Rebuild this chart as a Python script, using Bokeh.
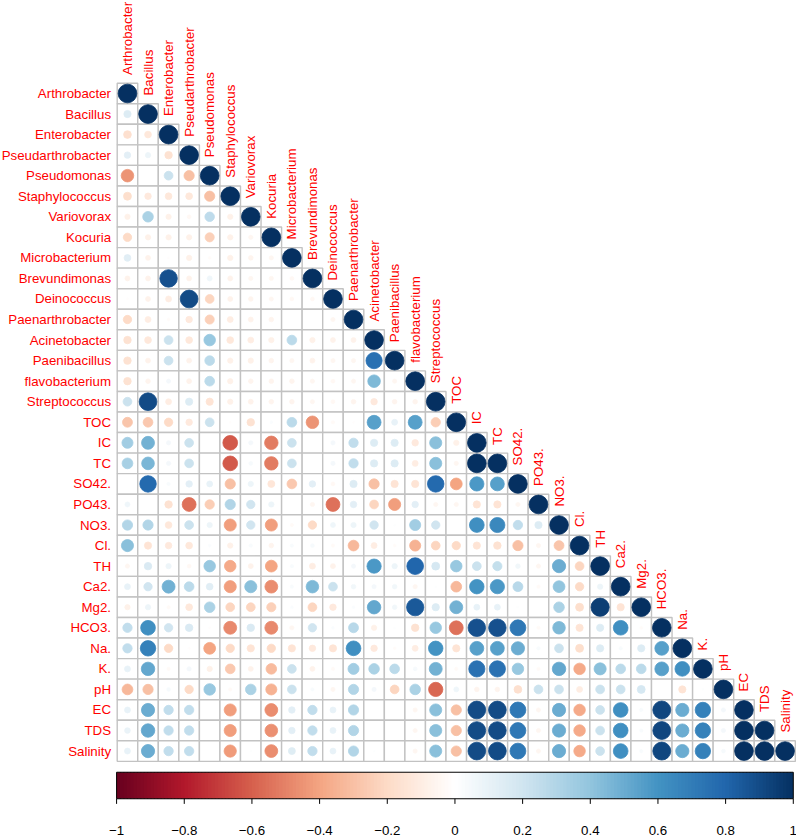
import math
import numpy as np
from bokeh.plotting import figure
from bokeh.models import Range1d
from bokeh.core.properties import value
from bokeh.embed import file_html
from bokeh.resources import INLINE

variables = ["Arthrobacter", "Bacillus", "Enterobacter", "Pseudarthrobacter", "Pseudomonas",
             "Staphylococcus", "Variovorax", "Kocuria", "Microbacterium", "Brevundimonas",
             "Deinococcus", "Paenarthrobacter", "Acinetobacter", "Paenibacillus", "flavobacterium",
             "Streptococcus", "TOC", "IC", "TC", "SO42.", "PO43.", "NO3.", "Cl.", "TH", "Ca2.",
             "Mg2.", "HCO3.", "Na.", "K.", "pH", "EC", "TDS", "Salinity"]

# lower-triangle correlations, one list per row (columns 1 .. row-1)
r_Bacillus = [0.15]
r_Enterobacter = [-0.17, -0.13]
r_Pseudarthrobacter = [0.12, 0.08, -0.16]
r_Pseudomonas = [-0.45, 0.0, 0.22, -0.3]
r_Staphylococcus = [-0.18, -0.12, -0.13, -0.13, -0.3]
r_Variovorax = [-0.08, 0.32, -0.08, -0.04, 0.26, -0.08]
r_Kocuria = [-0.2, -0.08, -0.08, -0.08, -0.24, -0.08, -0.05]
r_Microbacterium = [0.13, -0.07, -0.01, -0.08, -0.02, -0.08, -0.06, -0.05]
r_Brevundimonas = [-0.07, -0.07, 0.88, -0.07, 0.07, -0.07, -0.05, -0.05, -0.04]
r_Deinococcus = [-0.01, -0.07, -0.1, 0.9, -0.22, -0.07, -0.06, -0.05, -0.04, -0.04]
r_Paenarthrobacter = [-0.2, -0.1, -0.02, -0.12, -0.24, -0.1, -0.07, -0.06, 0.0, 0.0, -0.05]
r_Acinetobacter = [-0.16, -0.13, 0.22, -0.13, 0.38, -0.13, -0.1, -0.08, 0.27, -0.08, -0.07, -0.07]
r_Paenibacillus = [-0.16, -0.07, 0.22, -0.07, 0.27, -0.08, -0.08, -0.06, -0.05, -0.07, -0.05,
                   -0.05, 0.75]
r_flavobacterium = [-0.16, -0.06, 0.05, -0.07, 0.27, -0.08, -0.06, -0.06, -0.06, -0.05, -0.04,
                    -0.05, 0.45, -0.05]
r_Streptococcus = [0.22, 0.9, -0.1, 0.15, -0.15, -0.08, -0.07, -0.06, -0.06, -0.05, -0.04,
                   -0.06, -0.12, -0.06, -0.06]
r_TOC = [-0.28, -0.27, -0.2, -0.12, 0.22, -0.01, -0.16, 0.02, 0.27, -0.45, -0.03, -0.01, 0.55,
         0.1, 0.55, -0.25]
r_IC = [0.35, 0.48, 0.05, 0.22, 0.0, -0.62, 0.05, -0.52, 0.22, 0.0, 0.05, 0.25, 0.15, 0.15,
        -0.12, 0.42, -0.08]
r_TC = [0.33, 0.46, 0.05, 0.22, 0.0, -0.62, 0.04, -0.52, 0.22, 0.0, 0.05, 0.25, 0.15, 0.15,
        -0.1, 0.42, -0.05, 1.0]
r_SO4 = [0.0, 0.78, 0.03, 0.12, 0.1, -0.3, 0.08, -0.14, -0.27, 0.12, -0.04, 0.15, -0.3, -0.15,
         -0.15, 0.78, -0.4, 0.58, 0.55]
r_PO4 = [0.07, 0.0, -0.16, -0.55, -0.25, 0.3, 0.2, 0.08, 0.0, -0.05, -0.55, 0.12, -0.22, -0.42,
         0.12, -0.05, -0.05, -0.15, -0.15, -0.05]
r_NO3 = [0.3, 0.3, -0.13, 0.22, 0.08, -0.42, 0.2, -0.42, -0.03, -0.2, 0.07, 0.08, 0.2, 0.01,
         0.35, 0.2, 0.0, 0.62, 0.65, 0.25, 0.15]
r_Cl = [0.42, -0.15, -0.12, -0.13, 0.02, -0.08, 0.03, -0.06, 0.03, 0.04, -0.03, -0.33, -0.1,
        -0.02, -0.35, -0.22, -0.2, -0.15, -0.16, -0.3, -0.05, -0.28]
r_TH = [-0.05, 0.16, 0.08, -0.04, 0.38, -0.38, -0.07, -0.4, 0.03, -0.1, -0.07, 0.05, 0.58, 0.08,
        0.8, 0.18, 0.38, 0.22, 0.24, 0.06, -0.05, 0.5, -0.22]
r_Ca = [0.1, 0.2, 0.48, 0.27, 0.13, -0.42, 0.42, -0.47, 0.03, 0.45, 0.22, 0.06, 0.05, 0.06, -0.05,
        0.01, -0.33, 0.6, 0.58, 0.28, -0.03, 0.4, -0.2, 0.08]
r_Mg = [-0.08, 0.08, -0.03, -0.13, 0.32, -0.22, -0.22, -0.24, 0.02, -0.22, -0.12, 0.02, 0.52,
        0.06, 0.85, 0.15, 0.48, 0.1, 0.1, 0.01, 0.0, 0.32, -0.18, 0.95, -0.15]
r_HCO3 = [0.25, 0.62, 0.2, 0.16, -0.01, -0.48, 0.16, -0.48, -0.05, 0.2, 0.02, 0.28, -0.08, 0.01,
          -0.16, 0.38, -0.55, 0.88, 0.88, 0.72, -0.03, 0.45, -0.15, 0.15, 0.62, -0.02]
r_Na = [0.25, 0.68, -0.2, -0.01, -0.4, -0.2, -0.15, -0.2, -0.15, -0.12, -0.15, 0.62, -0.12,
        -0.02, -0.1, 0.6, -0.15, 0.55, 0.55, 0.5, 0.03, 0.22, -0.18, 0.15, 0.03, 0.15, 0.55]
r_K = [0.1, 0.52, -0.03, 0.05, -0.08, -0.27, -0.07, -0.32, 0.22, -0.07, -0.03, 0.35, 0.32, 0.27,
       0.04, 0.48, -0.03, 0.75, 0.75, 0.38, -0.03, 0.52, -0.38, 0.42, 0.27, 0.27, 0.55, 0.62]
r_pH = [-0.33, -0.3, 0.04, -0.2, 0.38, -0.03, 0.32, -0.35, 0.22, 0.03, -0.05, 0.3, 0.05, -0.22,
        0.32, -0.58, 0.07, -0.06, -0.06, -0.17, 0.22, 0.22, -0.1, 0.22, 0.22, 0.18, 0.0, -0.15,
        0.01]
r_EC = [0.1, 0.5, 0.25, 0.25, 0.0, -0.42, 0.0, -0.47, 0.12, 0.25, 0.1, 0.3, 0.0, 0.0, -0.05,
        0.42, -0.3, 0.9, 0.9, 0.72, -0.05, 0.5, -0.38, 0.22, 0.62, 0.03, 0.92, 0.5, 0.68, 0.05]
r_TDS = [0.09, 0.52, 0.25, 0.25, 0.0, -0.42, 0.0, -0.46, 0.12, 0.25, 0.1, 0.3, 0.0, 0.0, -0.05,
         0.42, -0.3, 0.9, 0.9, 0.72, -0.05, 0.5, -0.38, 0.22, 0.62, 0.03, 0.92, 0.5, 0.68, 0.05,
         1.0]
r_Salinity = [0.1, 0.5, 0.25, 0.25, 0.0, -0.43, 0.01, -0.47, 0.14, 0.25, 0.1, 0.3, 0.01, 0.0,
              -0.05, 0.42, -0.3, 0.9, 0.9, 0.72, -0.05, 0.5, -0.38, 0.22, 0.62, 0.03, 0.92, 0.5,
              0.68, 0.04, 1.0, 1.0]

lower_rows = [r_Bacillus, r_Enterobacter, r_Pseudarthrobacter, r_Pseudomonas, r_Staphylococcus,
              r_Variovorax, r_Kocuria, r_Microbacterium, r_Brevundimonas, r_Deinococcus,
              r_Paenarthrobacter, r_Acinetobacter, r_Paenibacillus, r_flavobacterium,
              r_Streptococcus, r_TOC, r_IC, r_TC, r_SO4, r_PO4, r_NO3, r_Cl, r_TH, r_Ca, r_Mg,
              r_HCO3, r_Na, r_K, r_pH, r_EC, r_TDS, r_Salinity]

colorbar_ticks = [-1.0, -0.8, -0.6, -0.4, -0.2, 0.0, 0.2, 0.4, 0.6, 0.8, 1.0]
colorbar_tick_labels = ["\u22121", "\u22120.8", "\u22120.6", "\u22120.4", "\u22120.2", "0",
                        "0.2", "0.4", "0.6", "0.8", "1"]
palette_anchors = ["#67001F", "#B2182B", "#D6604D", "#F4A582", "#FDDBC7", "#FFFFFF",
                   "#D1E5F0", "#92C5DE", "#4393C3", "#2166AC", "#053061"]

n = len(variables)
M = np.eye(n)
for i, row in enumerate(lower_rows, start=1):
    for j, v in enumerate(row):
        M[i, j] = v

anchor_rgb = np.array([[int(h[k:k + 2], 16) for k in (1, 3, 5)] for h in palette_anchors], float)
anchor_pos = np.linspace(-1, 1, len(palette_anchors))


def ramp(v):
    rgb = [np.interp(v, anchor_pos, anchor_rgb[:, c]) for c in range(3)]
    return "#%02x%02x%02x" % tuple(int(round(c)) for c in rgb)


# layout (pixels)
CELL = 20.55
W, H = 796, 838
grid_left = 116.7
grid_top = 82.7

p = figure(width=W, height=H, output_backend="svg", toolbar_location=None,
           x_range=Range1d(-grid_left / CELL, (W - grid_left) / CELL),
           y_range=Range1d((H - grid_top) / CELL, -grid_top / CELL),
           x_axis_location=None, y_axis_location=None, min_border=0,
           outline_line_color=None, background_fill_color="white")
p.grid.visible = False

cx, cy, vals = [], [], []
for i in range(n):
    for j in range(i + 1):
        cx.append(j + 0.5)
        cy.append(i + 0.5)
        vals.append(M[i, j])

p.rect(x=cx, y=cy, width=1, height=1, fill_color="white", line_color="#C2C2C2", line_width=1.4)

cols = [ramp(v) for v in vals]
rads = [0.455 * math.sqrt(abs(v)) for v in vals]
p.circle(x=cx, y=cy, radius=rads, fill_color=cols, line_color=cols, line_width=0.8)

font = value("Liberation Sans")
fs = "13.3px"
# row labels
p.text(x=[-0.3] * n, y=[i + 0.5 for i in range(n)], text=variables, text_align="right",
       text_baseline="middle", text_font=font, text_font_size=fs, text_color="#FF0000")
# column labels (vertical)
p.text(x=[j + 0.5 for j in range(n)], y=[j - 0.4 for j in range(n)], text=variables,
       angle=math.pi / 2, text_align="left", text_baseline="middle", text_font=font,
       text_font_size=fs, text_color="#FF0000")

# colour bar
cb_x0, cb_x1 = -0.03, 32.9
cb_top, cb_bot = n + 0.53, n + 1.82
nseg = 200
edges = np.linspace(-1, 1, nseg + 1)
mids = (edges[:-1] + edges[1:]) / 2
to_x = lambda v: cb_x0 + (np.asarray(v) + 1) / 2 * (cb_x1 - cb_x0)
seg_cols = [ramp(v) for v in mids]
seg_left = to_x(edges[:-1])
seg_right = np.minimum(to_x(edges[1:]) + 0.06, cb_x1)
p.quad(left=seg_left, right=seg_right, top=cb_top, bottom=cb_bot,
       fill_color=seg_cols, line_color=None)
p.quad(left=[cb_x0], right=[cb_x1], top=[cb_top], bottom=[cb_bot], fill_color=None,
       line_color="black", line_width=1)
tx = to_x(colorbar_ticks)
p.segment(x0=tx, y0=[cb_bot] * len(tx), x1=tx, y1=[cb_bot + 0.25] * len(tx),
          line_color="black", line_width=1)
p.text(x=tx, y=[n + 3.36] * len(tx), text=colorbar_tick_labels, text_align="center",
       text_baseline="middle", text_font=font, text_font_size=fs, text_color="black")

open("out.html", "w").write(file_html(p, INLINE))
